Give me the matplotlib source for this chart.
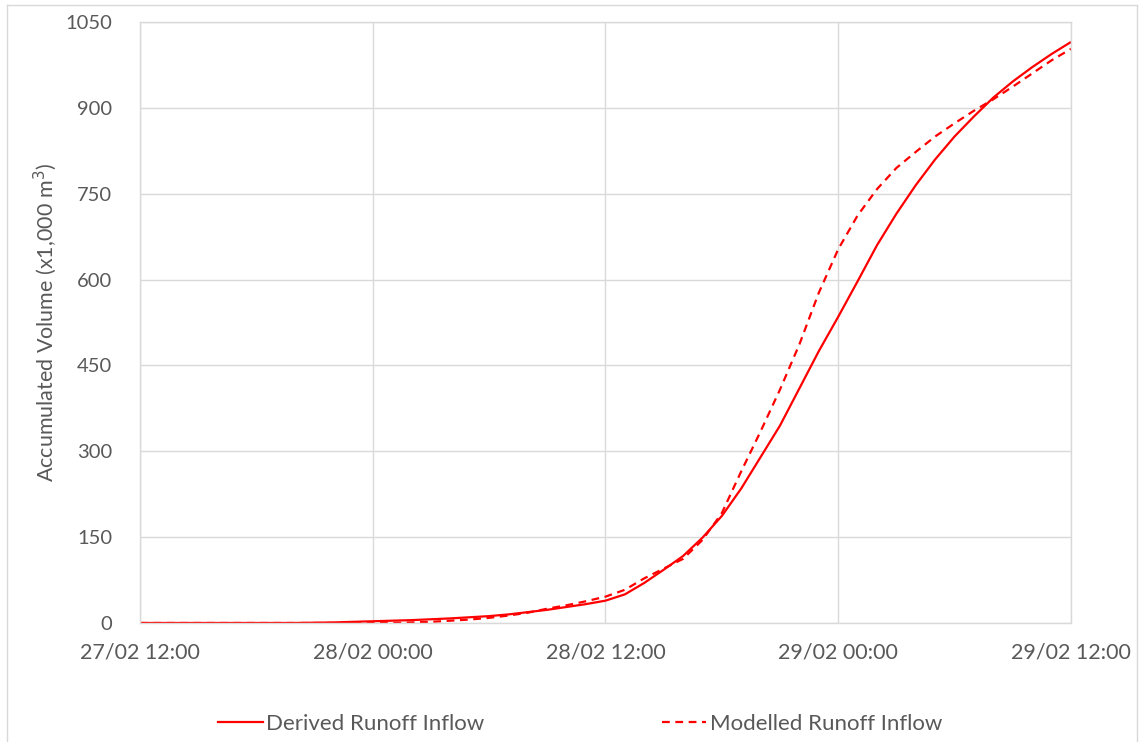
import matplotlib
matplotlib.use("Agg")
import matplotlib.pyplot as plt
from matplotlib.lines import Line2D

# hours since 27/02 12:00
derived_hours = [0, 8, 10, 12, 14, 16, 18, 19, 20, 21, 22, 23, 24, 25, 26, 27, 28, 29, 30,
                 31, 32, 33, 34, 35, 36, 37, 38, 39, 40, 41, 42, 43, 44, 45, 46, 47, 48]
derived_vol = [0, 0, 1, 3, 5, 8, 12, 15, 19, 23, 28, 33, 39, 50, 70, 93, 117, 149, 187,
               235, 290, 345, 410, 475, 535, 597, 660, 715, 765, 810, 850, 885, 918, 946, 971, 994, 1015]

modelled_hours = [0, 13, 14, 15, 16, 17, 18, 19, 20, 21, 22, 23, 24, 25, 26, 27, 28, 29, 30,
                  31, 32, 33, 34, 35, 36, 37, 38, 39, 40, 41, 42, 43, 44, 45, 46, 47, 48]
modelled_vol = [0, 0, 1, 2, 4, 6, 9, 13, 18, 25, 31, 38, 46, 58, 78, 95, 112, 145, 192,
                265, 335, 408, 487, 577, 653, 712, 758, 795, 823, 850, 873, 895, 915, 937, 960, 983, 1003]

x_ticks = [0, 12, 24, 36, 48]
x_labels = ["27/02 12:00", "28/02 00:00", "28/02 12:00", "29/02 00:00", "29/02 12:00"]
y_ticks = [0, 150, 300, 450, 600, 750, 900, 1050]

plt.rcParams['font.family'] = ['Lato', 'DejaVu Sans']
txt = '#595959'
grid = '#d9d9d9'
red = '#ff0000'

fig = plt.figure(figsize=(11.42, 7.42), dpi=100)
ax = fig.add_axes([0.1226, 0.1604, 0.8152, 0.81])

ax.plot(derived_hours, derived_vol, color=red, lw=1.6, solid_capstyle='butt')
ax.plot(modelled_hours, modelled_vol, color=red, lw=1.6, dashes=(3.5, 2.5))

ax.set_xlim(0, 48)
ax.set_ylim(0, 1050)
ax.set_xticks(x_ticks)
ax.set_xticklabels(x_labels)
ax.set_yticks(y_ticks)
ax.tick_params(axis='x', length=0, pad=14, labelsize=15.5, labelcolor=txt)
ax.tick_params(axis='y', length=0, pad=20, labelsize=14.5, labelcolor=txt)
ax.grid(True, color=grid, lw=1)
ax.set_axisbelow(True)
for s in ax.spines.values():
    s.set_color(grid)
    s.set_linewidth(1)

ax.set_ylabel('Accumulated Volume (x1,000 m$^3$)', fontsize=15.5, color=txt)
ax.yaxis.set_label_coords(-0.087, 0.5)

handles = [Line2D([], [], color=red, lw=1.6),
           Line2D([], [], color=red, lw=1.6, dashes=(3.5, 2.5))]
fig.legend(handles, ['Derived Runoff Inflow', 'Modelled Runoff Inflow'],
           loc='center', bbox_to_anchor=(0.508, 0.024), ncol=2, frameon=False,
           fontsize=16, labelcolor=txt, handlelength=2.0, handletextpad=0.15,
           columnspacing=8.0)

# chart frame
fig.add_artist(Line2D([0.006, 0.006], [0.0, 0.993], color=grid, lw=1, transform=fig.transFigure))
fig.add_artist(Line2D([0.006, 0.996], [0.993, 0.993], color=grid, lw=1, transform=fig.transFigure))
fig.add_artist(Line2D([0.996, 0.996], [0.0, 0.993], color=grid, lw=1, transform=fig.transFigure))

fig.savefig('out.png', dpi=100)
